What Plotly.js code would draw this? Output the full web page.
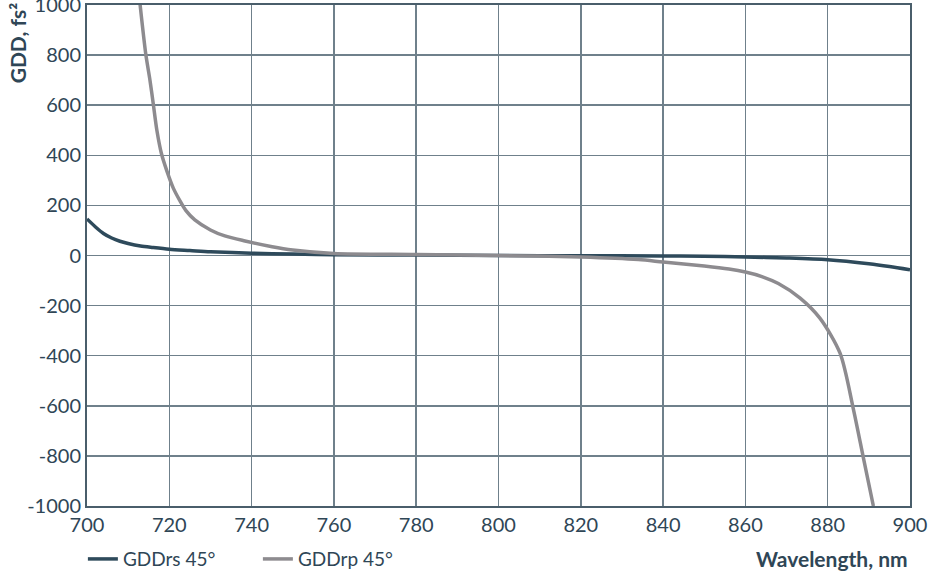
<!DOCTYPE html>
<html>
<head>
<meta charset="utf-8">
<script src="https://cdn.plot.ly/plotly-3.0.1.min.js"></script>
<style>
html,body{margin:0;padding:0;background:#ffffff;}
#chart{width:932px;height:574px;}
</style>
</head>
<body>
<div id="chart"></div>
<script>
// GDDrs 45°
const wlRs = [700, 702, 704, 706, 708, 710, 713, 716, 720, 725, 730, 740, 750, 760, 780, 800, 820, 840, 850, 860, 870, 880, 890, 895, 900];
const gddRs = [146, 115, 88, 70, 57, 48, 38, 32, 25, 20, 15, 9, 6, 3, 2, 0, -1, -2, -3, -6, -10, -17, -33, -44, -57];

// GDDrp 45°
const wlRp = [712.9, 714.3, 715.3, 716.1, 717, 718.1, 719.4, 721, 722.6, 724, 726.2, 730, 733.5, 738.4, 745, 750, 760, 780, 800, 820, 834, 840, 850, 856, 860, 864, 868, 873.3, 878.1, 883, 886.2, 888.7, 891.1];
const gddRp = [1002, 802, 700, 606, 498, 406, 338, 268, 218, 180, 142, 102, 78, 58, 35, 22, 8, 4, 0, -6, -16, -26, -42, -54, -66, -84, -112, -170, -250, -390, -610, -810, -1000];

const xTicks = [700, 720, 740, 760, 780, 800, 820, 840, 860, 880, 900];
const yTicks = [-1000, -800, -600, -400, -200, 0, 200, 400, 600, 800, 1000];

const textColor = '#2f4656';
const fontFam = 'Lato, "Open Sans", sans-serif';

const traces = [
  {x: wlRs, y: gddRs, name: 'GDDrs 45°', mode: 'lines',
   line: {color: '#2e4a5b', width: 3.5, shape: 'spline', smoothing: 0.8}},
  {x: wlRp, y: gddRp, name: 'GDDrp 45°', mode: 'lines',
   line: {color: '#8d8b8f', width: 3.5, shape: 'spline', smoothing: 0.8}}
];

const layout = {
  width: 932, height: 574,
  margin: {l: 87, r: 22, t: 5, b: 68, autoexpand: false},
  paper_bgcolor: '#ffffff',
  plot_bgcolor: '#ffffff',
  font: {family: fontFam, color: textColor, size: 18},
  showlegend: true,
  legend: {orientation: 'h', x: -0.005, y: -0.068, xanchor: 'left', yanchor: 'top',
           font: {family: fontFam, size: 19, color: textColor},
           itemwidth: 30, entrywidth: 130, entrywidthmode: 'pixels',
           bgcolor: 'rgba(0,0,0,0)', traceorder: 'normal'},
  xaxis: {range: [700, 900], tickvals: xTicks, ticktext: xTicks.map(String),
          showgrid: true, gridcolor: '#6f808b', gridwidth: 1.5,
          showline: true, mirror: true, linecolor: '#4a5e6b', linewidth: 2,
          zeroline: false, ticks: '', ticklen: 0, ticklabeloverflow: 'allow',
          tickfont: {family: fontFam, size: 20, color: textColor}},
  yaxis: {range: [-1000, 1000], tickvals: yTicks, ticktext: yTicks.map(String),
          showgrid: true, gridcolor: '#6f808b', gridwidth: 1.5,
          showline: true, mirror: true, linecolor: '#4a5e6b', linewidth: 2,
          zeroline: false, ticks: '', ticklen: 0, ticklabeloverflow: 'allow',
          tickfont: {family: fontFam, size: 20, color: textColor}},
  annotations: [
    {text: '<b>Wavelength, nm</b>', xref: 'paper', yref: 'paper', x: 1.0, y: -0.075,
     xanchor: 'right', yanchor: 'top', showarrow: false,
     font: {family: fontFam, size: 21, color: textColor}},
    {text: '<b>GDD, fs²</b>', xref: 'paper', yref: 'paper', x: -0.084, y: 1.01,
     xanchor: 'center', yanchor: 'top', textangle: -90, showarrow: false,
     font: {family: fontFam, size: 21, color: textColor}}
  ]
};

Plotly.newPlot('chart', traces, layout, {displayModeBar: false, staticPlot: true});
</script>
</body>
</html>
